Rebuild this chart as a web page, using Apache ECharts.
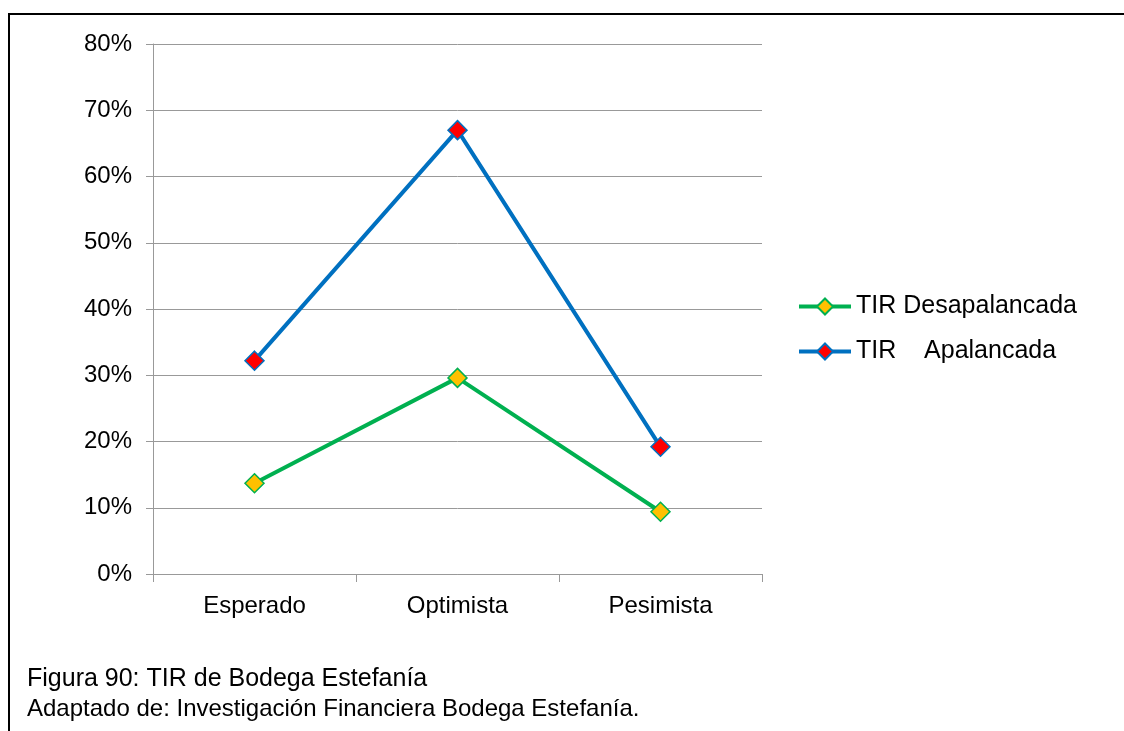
<!DOCTYPE html>
<html>
<head>
<meta charset="utf-8">
<script src="https://cdn.jsdelivr.net/npm/echarts@6/dist/echarts.min.js"></script>
<style>
html,body{margin:0;padding:0;background:#fff;}
#chart{width:1124px;height:731px;}
</style>
</head>
<body>
<div id="chart"></div>
<script>
// Escenarios y TIR (fracción)
const escenarios = ['Esperado', 'Optimista', 'Pesimista'];
const tirDesapalancada = [0.137, 0.296, 0.094];
const tirApalancada = [0.322, 0.670, 0.192];
const nombres = ['TIR Desapalancada', 'TIR    Apalancada'];
const captionLines = ['Figura 90: TIR de Bodega Estefanía', 'Adaptado de: Investigación Financiera Bodega Estefanía.'];

const FONT = '"Liberation Sans", Arial, sans-serif';
const chart = echarts.init(document.getElementById('chart'), null, {renderer: 'canvas'});

chart.setOption({
  animation: false,
  backgroundColor: '#fff',
  grid: {left: 153, top: 44, right: 362, bottom: 157, containLabel: false},
  legend: {
    orient: 'vertical',
    left: 797, top: 294, padding: 0,
    itemWidth: 52, itemHeight: 20, itemGap: 20,
    textStyle: {fontFamily: FONT, fontSize: 25, color: '#000'},
    data: [
      {name: nombres[0], lineStyle: {width: 4, color: '#00B050'}},
      {name: nombres[1], lineStyle: {width: 4, color: '#0070C0'}}
    ]
  },
  xAxis: {
    type: 'category',
    data: escenarios,
    boundaryGap: true,
    axisLine: {lineStyle: {color: '#999', width: 1}},
    axisTick: {show: true, length: 8, lineStyle: {color: '#999'}},
    axisLabel: {fontFamily: FONT, fontSize: 24, color: '#000', margin: 20}
  },
  yAxis: {
    type: 'value',
    min: 0, max: 0.8, interval: 0.1,
    axisLine: {show: true, lineStyle: {color: '#999', width: 1}},
    axisTick: {show: true, length: 7, lineStyle: {color: '#999'}},
    splitLine: {lineStyle: {color: '#999', width: 1}},
    axisLabel: {
      fontFamily: FONT, fontSize: 24, color: '#000', margin: 21,
      formatter: v => Math.round(v * 100) + '%'
    }
  },
  series: [
    {
      name: nombres[0], type: 'line', data: tirDesapalancada,
      symbol: 'diamond', symbolSize: 19,
      lineStyle: {color: '#00B050', width: 4},
      itemStyle: {color: '#FFC000', borderColor: '#00B050', borderWidth: 1.5}
    },
    {
      name: nombres[1], type: 'line', data: tirApalancada,
      symbol: 'diamond', symbolSize: 19,
      lineStyle: {color: '#0070C0', width: 4},
      itemStyle: {color: '#FF0000', borderColor: '#0070C0', borderWidth: 1.5}
    }
  ],
  graphic: [
    {type: 'line', shape: {x1: 8, y1: 14, x2: 1124, y2: 14}, style: {stroke: '#000', lineWidth: 2}},
    {type: 'line', shape: {x1: 9, y1: 13, x2: 9, y2: 731}, style: {stroke: '#000', lineWidth: 2}},
    {type: 'text', left: 27, top: 667, style: {text: captionLines[0], font: '25px ' + FONT, fill: '#000'}},
    {type: 'text', left: 27, top: 697, style: {text: captionLines[1], font: '24px ' + FONT, fill: '#000'}}
  ]
});
</script>
</body>
</html>
